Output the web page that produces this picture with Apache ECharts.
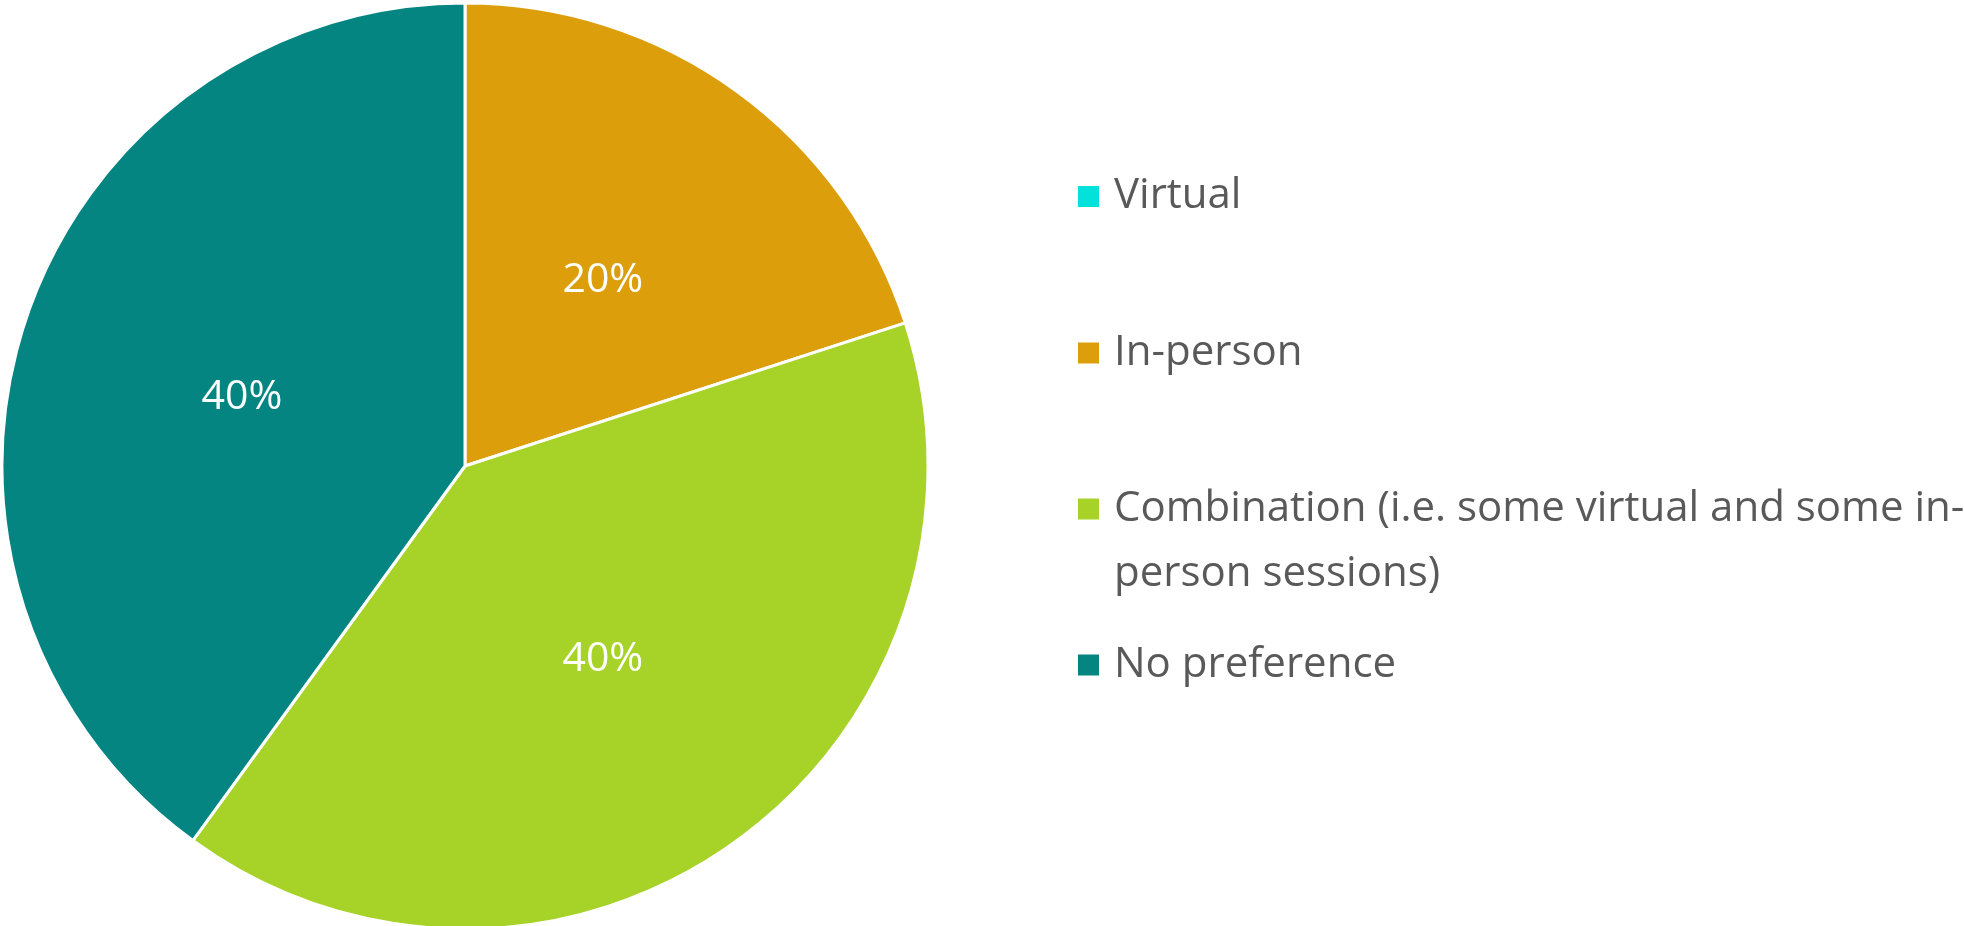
<!DOCTYPE html>
<html>
<head>
<meta charset="utf-8">
<script src="https://cdn.jsdelivr.net/npm/echarts@6/dist/echarts.min.js"></script>
<style>
html,body{margin:0;padding:0;background:#fff;}
#chart{width:1964px;height:926px;}
</style>
</head>
<body>
<div id="chart"></div>
<script>
const categories = ['Virtual', 'In-person', 'Combination (i.e. some virtual and some in-\nperson sessions)', 'No preference'];
const values = [0, 20, 40, 40];
const colors = ['#03E1DB', '#DC9F0B', '#A7D228', '#058581'];

const FONT = '"Open Sans", "Noto Sans", sans-serif';
const legendCenters = [196.5, 353, 509, 665];
const lineH = 65;

const legends = categories.map((name, i) => {
  const twoLine = name.indexOf('\n') >= 0;
  const h = twoLine ? lineH * 3 : lineH;
  return {
    data: [name],
    orient: 'vertical',
    left: 1076,
    top: legendCenters[i] - h / 2,
    padding: 0,
    itemWidth: 23,
    itemHeight: 23,
    icon: 'rect',
    selectedMode: false,
    formatter: n => twoLine ? ' \n' + n : n,
    textStyle: {
      fontFamily: FONT,
      fontSize: 42,
      color: '#595959',
      lineHeight: lineH,
      padding: [0, 0, 0, 9]
    }
  };
});

const chart = echarts.init(document.getElementById('chart'), null, {renderer: 'canvas'});
chart.setOption({
  animation: false,
  color: colors,
  legend: legends,
  series: [{
    type: 'pie',
    center: [465, 466],
    radius: [0, 463],
    startAngle: 90,
    clockwise: true,
    avoidLabelOverlap: false,
    silent: true,
    data: categories.map((name, i) => ({name: name, value: values[i]})),
    itemStyle: {borderColor: '#ffffff', borderWidth: 3},
    label: {
      show: true,
      position: 'inside',
      color: '#ffffff',
      fontFamily: FONT,
      fontSize: 41,
      offset: [0, 4],
      formatter: p => p.value > 0 ? Math.round(p.percent) + '%' : ''
    },
    labelLine: {show: false},
    emphasis: {disabled: true}
  }]
});
</script>
</body>
</html>
